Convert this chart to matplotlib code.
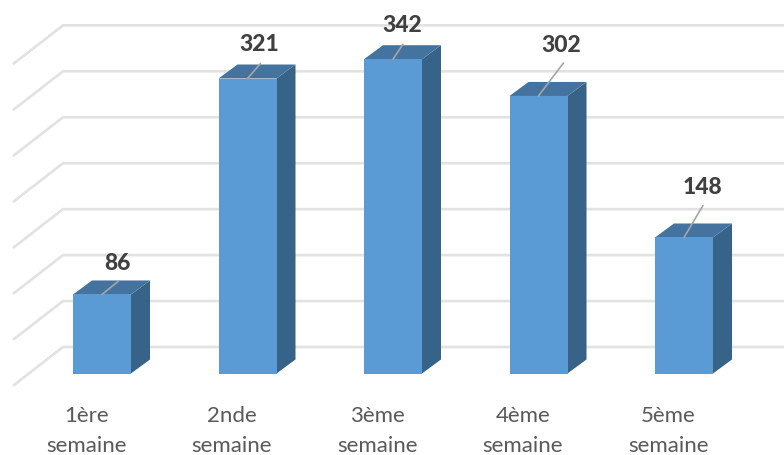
import matplotlib
matplotlib.use('Agg')
import matplotlib.pyplot as plt
from matplotlib.patches import Polygon

plt.rcParams['font.family'] = ['Lato', 'DejaVu Sans']

#___________Datos______________#
semaines = ['1ère', '2nde', '3ème', '4ème', '5ème']
valeurs  = [86, 321, 342, 302, 148]
grille   = [0, 50, 100, 150, 200, 250, 300, 350]

#___________Estilo (todo en pixeles)______________#
W, H    = 784, 455
px_x    = 145.5     # pixeles entre categorias
px_val  = 0.919     # pixeles por unidad
x0, y0  = 102, 373.5  # pixel de la categoria 0 y del valor 0
larg    = 58        # ancho de barra
dx, dy  = 19, 14    # profundidad de la barra
# pared del fondo
fond_y  = 26.5      # el valor 0 de la grilla queda mas arriba que la base
fond_x  = 63
mur_dx, mur_dy = 49, 38

text_off = [(15, 31), (12, 34), (9, 34), (23, 50), (18, 50)]
line_off = [(16, 13), (13, 15), (10, 15), (25, 33), (19, 32)]

C_FACE, C_TOP, C_SIDE = '#5B9BD5', '#44739F', '#386388'

fig = plt.figure(figsize=(W/100, H/100), dpi=100)
ax = fig.add_axes([0, 0, 1, 1])
ax.set_xlim(-x0/px_x, (W-x0)/px_x)
ax.set_ylim(-(H-y0)/px_val, y0/px_val)
ax.axis('off')

ux = 1.0/px_x
uy = 1.0/px_val

# grilla: pared lateral + pared del fondo
xf = ((fond_x-x0)*ux)
xl = ((fond_x-mur_dx-x0)*ux)
xr = ((W-x0)*ux)
for g in grille:
    yb = g + fond_y*uy
    ax.plot([xl, xf, xr], [yb-mur_dy*uy, yb, yb], color='#E2E2E2', lw=1.9, zorder=1,
            solid_joinstyle='miter')

# barras
ax.bar(range(len(valeurs)), valeurs, width=larg*ux, color=C_FACE, zorder=3)
for i, v in enumerate(valeurs):
    l, r = i-larg*ux/2, i+larg*ux/2
    ax.add_patch(Polygon([(r, 0), (r+dx*ux, dy*uy), (r+dx*ux, v+dy*uy), (r, v)], color=C_SIDE, lw=0, zorder=2))
    ax.add_patch(Polygon([(l, v), (r, v), (r+dx*ux, v+dy*uy), (l+dx*ux, v+dy*uy)], color=C_TOP, lw=0, zorder=2))

    # etiqueta y linea guia
    ax.annotate('', xy=(i, v), xytext=(line_off[i][0]*0.72, line_off[i][1]*0.72), textcoords='offset points',
                arrowprops=dict(arrowstyle='-', color='#A6A6A6', lw=1.2, shrinkA=0, shrinkB=0), zorder=4)
    ax.annotate(str(v), xy=(i, v), xytext=(text_off[i][0]*0.72, text_off[i][1]*0.72), textcoords='offset points',
                ha='center', va='center', fontsize=16.5, fontweight=900, color='#404040', zorder=5)

    # categorias
    ax.annotate(semaines[i], xy=(i, 0), xytext=(-15.5*0.72, -42.5*0.72), textcoords='offset points',
                ha='center', va='center', fontsize=16, color='#595959')
    ax.annotate('semaine', xy=(i, 0), xytext=(-15.5*0.72, -72.5*0.72), textcoords='offset points',
                ha='center', va='center', fontsize=16, color='#595959')

fig.savefig('out.png', dpi=100)
